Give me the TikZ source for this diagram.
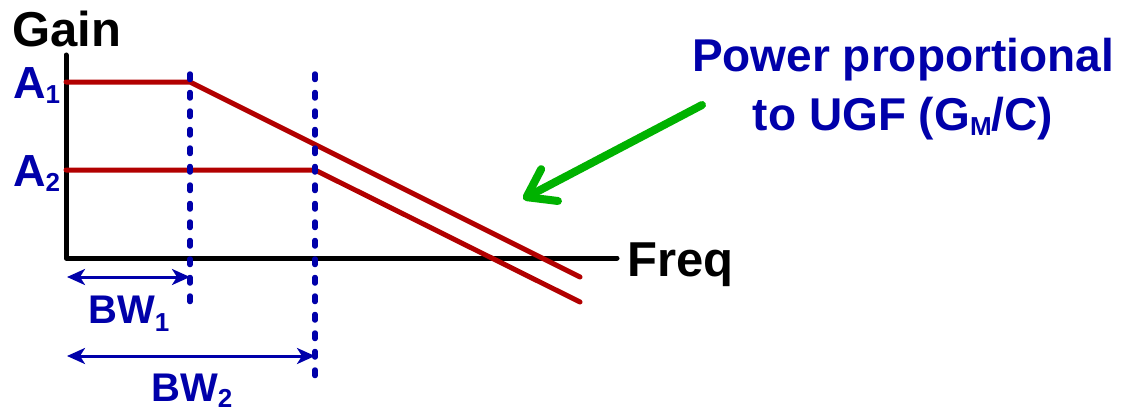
\documentclass[tikz,border=0pt]{standalone}
\usepackage{fontspec}
\setmainfont{Liberation Sans}
\usetikzlibrary{arrows.meta}

\definecolor{curvered}{RGB}{178,0,0}
\definecolor{bwblue}{RGB}{0,0,170}
\definecolor{notegreen}{RGB}{0,178,0}

% lowered subscript in the label font
\newcommand{\lowsub}[2][6pt]{\raisebox{-#1}{\fontsize{26}{26}\selectfont #2}}

\tikzset{
    axisline/.style={line width=5pt, line cap=round, line join=round},
    gainline/.style={curvered, line width=5pt, line cap=round, line join=round},
    bandedge/.style={bwblue, line width=5.5pt, line cap=round, dash pattern=on 5.5pt off 13pt},
    bwarrow/.style={bwblue, line width=3pt,
        {Stealth[length=18pt,width=16pt,inset=5pt]}-{Stealth[length=18pt,width=16pt,inset=5pt]}},
    notearrow/.style={notegreen, line width=8pt, line cap=round,
        -{Straight Barb[length=26pt,width=36pt,round]}},
    axislabel/.style={font=\bfseries\fontsize{49}{52}\selectfont, inner sep=0pt},
    levellabel/.style={bwblue, font=\bfseries\fontsize{45}{50}\selectfont, inner sep=0pt},
    bwlabel/.style={bwblue, font=\bfseries\fontsize{40}{44}\selectfont, inner sep=0pt},
    notelabel/.style={bwblue, font=\bfseries\fontsize{46}{50}\selectfont, inner sep=0pt},
}

\begin{document}
\begin{tikzpicture}[x=1pt, y=-1pt]
        \useasboundingbox (0,0) rectangle (1139,412);

        % axes
        \coordinate (top) at (66,55);
        \coordinate (origin) at (66,258);
        \coordinate (right) at (617,258);
        \draw[axisline] (top) -- (origin) -- (right);

        \node[axislabel, anchor=base west] (gain) at (12,47) {Gain};
        \node[axislabel, anchor=base west] (freq) at (627,276) {Freq};

        % gain levels
        \node[levellabel, anchor=base west] (a1) at (13,98) {A\lowsub[5pt]{1}};
        \node[levellabel, anchor=base west] (a2) at (13,186) {A\lowsub[5pt]{2}};

        % responses
        \coordinate (p1) at (190,82);
        \coordinate (p2) at (315,170);
        \draw[gainline] (66,82) -- (p1) -- (580,277);
        \draw[gainline] (66,170) -- (p2) -- (580,302);

        % band edges
        \coordinate (e1) at (190,308);
        \coordinate (e2) at (315,382);
        \draw[bandedge] (190,74) -- (e1);
        \draw[bandedge] (315,74) -- (e2);

        % bandwidths
        \coordinate (b1l) at (67,277);
        \coordinate (b1r) at (190,277);
        \coordinate (b2l) at (67,356);
        \coordinate (b2r) at (315,356);
        \draw[bwarrow] (b1l) -- (b1r);
        \draw[bwarrow] (b2l) -- (b2r);
        \node[bwlabel, anchor=base west] (bw1) at (88,323) {BW\lowsub[8pt]{1}};
        \node[bwlabel, anchor=base west] (bw2) at (151,401) {BW\lowsub[6pt]{2}};

        % note
        \node[notelabel, anchor=base] (note1) at (903,71) {Power proportional};
        \node[notelabel, anchor=base] (note2) at (903,130) {to UGF (G\lowsub[5pt]{M}/C)};
        \coordinate (tail) at (702,105);
        \coordinate (tip) at (523,199);
        \draw[notearrow] (tail) -- (tip);

\end{tikzpicture}
\end{document}
